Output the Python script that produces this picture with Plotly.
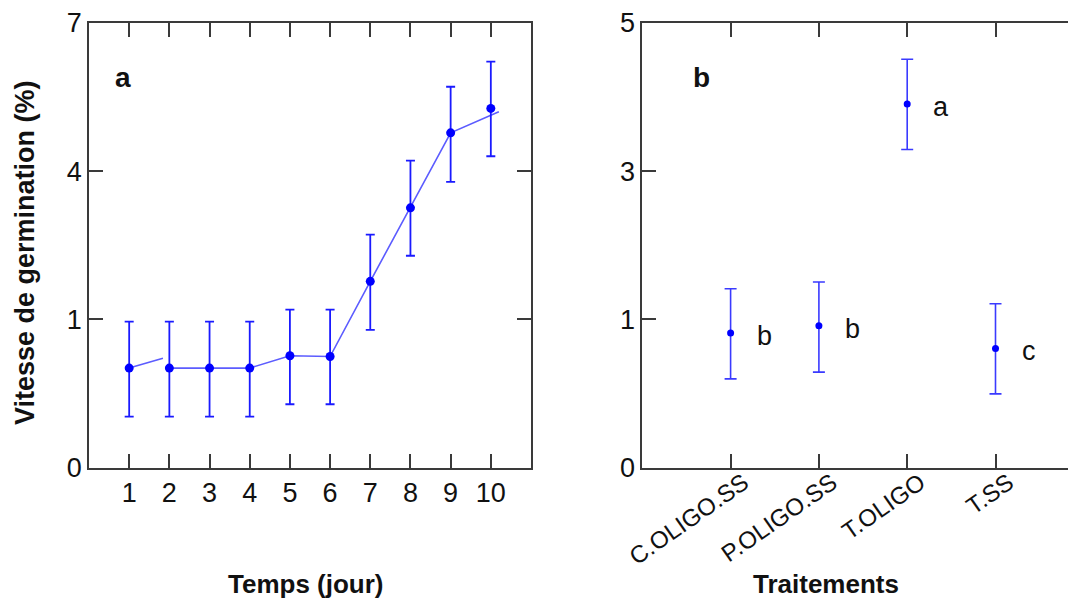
import plotly.graph_objects as go

# ---- Panel a data (values on the plotted position scale) ----
days = [1, 2, 3, 4, 5, 6, 7, 8, 9, 10]
speed_mean = [0.672, 0.672, 0.672, 0.672, 0.755, 0.750, 1.257, 1.753, 2.259, 2.424]
speed_hi = [0.986, 0.986, 0.986, 0.986, 1.066, 1.066, 1.572, 2.072, 2.570, 2.739]
speed_lo = [0.345, 0.345, 0.345, 0.345, 0.428, 0.428, 0.930, 1.430, 1.928, 2.101]
line_x = [1, 1.84, None, 2, 3, 4, 5, 6, 7, 8, 9, 10.2]
line_y = [0.672, 0.739, None, 0.672, 0.672, 0.672, 0.755, 0.750, 1.257, 1.753, 2.259, 2.401]
ya_tickvals = [0, 1, 2, 3]
ya_ticktext = ["0", "1", "4", "7"]

# ---- Panel b data ----
treatments = ["C.OLIGO.SS", "P.OLIGO.SS", "T.OLIGO", "T.SS"]
treat_mean = [0.908, 0.957, 2.453, 0.804]
treat_hi = [1.207, 1.253, 2.755, 1.106]
treat_lo = [0.599, 0.645, 2.147, 0.498]
treat_letters = ["b", "b", "a", "c"]
yb_tickvals = [0, 1, 2, 3]
yb_ticktext = ["0", "1", "3", "5"]

FONT = "Liberation Sans, Arial, sans-serif"
OFF = 8                      # page body margin
W, H = 1076 - OFF, 599 - OFF
AX = "#3a3a3a"


def px(x):  # screen x -> paper fraction
    return (x - OFF) / W


def py(y):  # screen y -> paper fraction
    return 1 - (y - OFF) / H


fig = go.Figure()

fig.add_trace(go.Scatter(x=line_x, y=line_y, mode="lines",
                         line=dict(color="#5c5cff", width=1.6),
                         connectgaps=False, hoverinfo="skip", xaxis="x", yaxis="y"))
fig.add_trace(go.Scatter(
    x=days, y=speed_mean, mode="markers",
    marker=dict(color="#0000ff", size=9),
    error_y=dict(type="data", symmetric=False,
                 array=[h - m for h, m in zip(speed_hi, speed_mean)],
                 arrayminus=[m - l for m, l in zip(speed_mean, speed_lo)],
                 color="#1a1aff", thickness=1.8, width=4.5),
    xaxis="x", yaxis="y"))

xb = list(range(1, len(treatments) + 1))
fig.add_trace(go.Scatter(
    x=xb, y=treat_mean, mode="markers",
    marker=dict(color="#0000ff", size=7),
    error_y=dict(type="data", symmetric=False,
                 array=[h - m for h, m in zip(treat_hi, treat_mean)],
                 arrayminus=[m - l for m, l in zip(treat_mean, treat_lo)],
                 color="#3a3aff", thickness=1.6, width=6),
    xaxis="x2", yaxis="y2"))

# panel geometry (screen pixels of the reference)
xa_dom = [px(89), px(531)]
xb_left = px(642.3)
xb_range_max = (1076 - 642.3) / 88.3
y_dom = [py(467.7), py(23)]

axis_common = dict(showline=True, linecolor=AX, linewidth=1.5, ticks="inside",
                   ticklen=14, tickwidth=1.5, tickcolor=AX, showgrid=False,
                   zeroline=False, automargin=False,
                   tickfont=dict(family=FONT, size=27, color="#111"))

fig.update_layout(
    width=W, height=H, margin=dict(l=0, r=0, t=0, b=0, pad=0, autoexpand=False),
    paper_bgcolor="white", plot_bgcolor="white", showlegend=False,
    xaxis=dict(domain=xa_dom, range=[0, 11], tickvals=days, mirror="ticks",
               anchor="y", **axis_common),
    yaxis=dict(domain=y_dom, range=[0, 3], tickvals=ya_tickvals, ticktext=ya_ticktext,
               mirror="ticks", anchor="x", **axis_common),
    xaxis2=dict(domain=[xb_left, 1], range=[0, xb_range_max], tickvals=xb,
                ticktext=treatments, tickangle=-35, mirror="ticks", anchor="y2",
                ticklabelstandoff=-10, ticklabelshift=13,
                **{**axis_common, "tickfont": dict(family=FONT, size=24, color="#111")}),
    yaxis2=dict(domain=y_dom, range=[0, 3], tickvals=yb_tickvals, ticktext=yb_ticktext,
                mirror=False, anchor="x2", **axis_common),
)

# partial right-side tick stubs of clipped panel b
for v in yb_tickvals[1:]:
    fig.add_shape(type="line", xref="paper", yref="y2", x0=px(1071), x1=1,
                  y0=v, y1=v, line=dict(color=AX, width=1.5))

ann = []
ann.append(dict(text="<b>a</b>", x=0.85, y=2.63, xref="x", yref="y", showarrow=False,
                font=dict(family=FONT, size=28, color="#111")))
ann.append(dict(text="<b>b</b>", x=0.665, y=2.63, xref="x2", yref="y2", showarrow=False,
                font=dict(family=FONT, size=28, color="#111")))
for i, (lt, m) in enumerate(zip(treat_letters, treat_mean)):
    ann.append(dict(text=lt, x=xb[i] + 0.38, y=m - 0.02, xref="x2", yref="y2", showarrow=False,
                    font=dict(family=FONT, size=27, color="#111")))
ann.append(dict(text="<b>Temps (jour)</b>", x=px(306), y=py(584), xref="paper", yref="paper",
                xanchor="center", yanchor="middle",
                showarrow=False, font=dict(family=FONT, size=26, color="#111")))
ann.append(dict(text="<b>Traitements</b>", x=px(826), y=py(584), xref="paper", yref="paper",
                xanchor="center", yanchor="middle",
                showarrow=False, font=dict(family=FONT, size=26, color="#111")))
ann.append(dict(text="<b>Vitesse de germination (%)</b>", x=px(25), y=py(253),
                xref="paper", yref="paper", textangle=-90, showarrow=False,
                xanchor="center", yanchor="middle",
                font=dict(family=FONT, size=27, color="#111")))
fig.update_layout(annotations=ann)

fig.write_html("out.html")
